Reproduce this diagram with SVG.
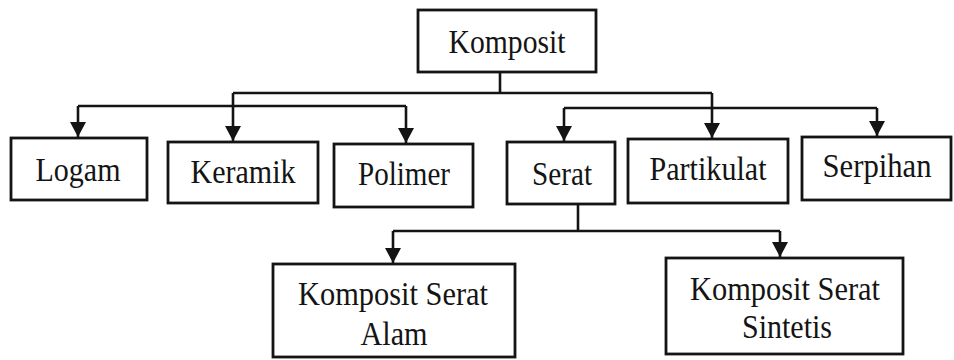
<svg xmlns="http://www.w3.org/2000/svg" width="954" height="360" viewBox="0 0 954 360">
<style>
.box{fill:#fff;stroke:#141414;stroke-width:2.8}
.t{font-family:"Liberation Serif","Times New Roman",serif;font-size:34px;fill:#141414;text-anchor:middle}
.c{fill:none;stroke:#141414;stroke-width:2.6}
</style>
<defs>
<marker id="ah" markerUnits="userSpaceOnUse" markerWidth="18" markerHeight="18" refX="15" refY="8" orient="auto">
<path d="M0,0 L15,8 L0,16 z" fill="#141414"/>
</marker>
</defs>
<rect width="954" height="360" fill="#fff"/>
<g id="connectors">
<path class="c" d="M500,72 V93"/>
<path class="c" d="M233,93 H712"/>
<path class="c" d="M233,93 V141" marker-end="url(#ah)"/>
<path class="c" d="M712,93 V138" marker-end="url(#ah)"/>
<path class="c" d="M78,106 H406"/>
<path class="c" d="M78,106 V137" marker-end="url(#ah)"/>
<path class="c" d="M406,106 V143" marker-end="url(#ah)"/>
<path class="c" d="M564,108 H877"/>
<path class="c" d="M564,108 V141" marker-end="url(#ah)"/>
<path class="c" d="M877,108 V136" marker-end="url(#ah)"/>
<path class="c" d="M578,204 V231"/>
<path class="c" d="M393,231 H780"/>
<path class="c" d="M393,231 V263" marker-end="url(#ah)"/>
<path class="c" d="M780,231 V257" marker-end="url(#ah)"/>
</g>
<g id="komposit"><rect class="box" x="418" y="10" width="178" height="62"/><text class="t" x="507" y="53" textLength="117" lengthAdjust="spacingAndGlyphs">Komposit</text></g>
<g id="logam"><rect class="box" x="11" y="138" width="136" height="62"/><text class="t" x="78" y="181" textLength="85" lengthAdjust="spacingAndGlyphs">Logam</text></g>
<g id="keramik"><rect class="box" x="168" y="142" width="150" height="61"/><text class="t" x="243" y="183" textLength="105" lengthAdjust="spacingAndGlyphs">Keramik</text></g>
<g id="polimer"><rect class="box" x="334" y="144" width="139" height="63"/><text class="t" x="404" y="185" textLength="92" lengthAdjust="spacingAndGlyphs">Polimer</text></g>
<g id="serat"><rect class="box" x="507" y="142" width="108" height="62"/><text class="t" x="562" y="185" textLength="60" lengthAdjust="spacingAndGlyphs">Serat</text></g>
<g id="partikulat"><rect class="box" x="628" y="139" width="160" height="64"/><text class="t" x="708" y="180" textLength="117" lengthAdjust="spacingAndGlyphs">Partikulat</text></g>
<g id="serpihan"><rect class="box" x="802" y="137" width="149" height="63"/><text class="t" x="877" y="177" textLength="109" lengthAdjust="spacingAndGlyphs">Serpihan</text></g>
<g id="komposit-serat-alam"><rect class="box" x="273" y="264" width="242" height="93"/><text class="t" x="393" y="305" textLength="190" lengthAdjust="spacingAndGlyphs">Komposit Serat</text><text class="t" x="394" y="345" textLength="67" lengthAdjust="spacingAndGlyphs">Alam</text></g>
<g id="komposit-serat-sintetis"><rect class="box" x="666" y="258" width="237" height="96"/><text class="t" x="785" y="300" textLength="190" lengthAdjust="spacingAndGlyphs">Komposit Serat</text><text class="t" x="787" y="338" textLength="90" lengthAdjust="spacingAndGlyphs">Sintetis</text></g>
</svg>
